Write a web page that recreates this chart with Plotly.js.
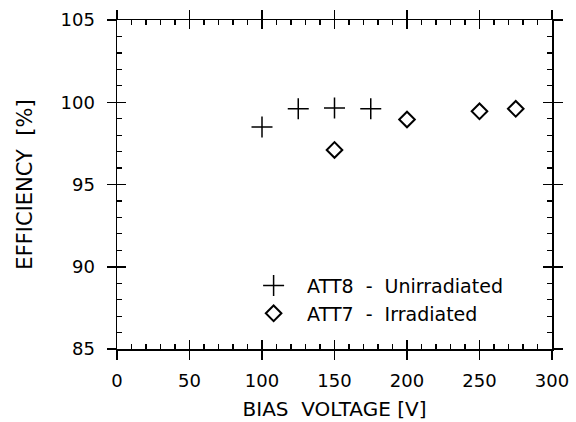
<!DOCTYPE html>
<html>
<head>
<meta charset="utf-8">
<script src="https://cdn.plot.ly/plotly-3.0.1.min.js"></script>
<style>html,body{margin:0;padding:0;background:#fff}#chart{width:576px;height:422px}</style>
</head>
<body>
<div id="chart"></div>
<script>
// Data
const att8Voltage = [100, 125, 150, 175];
const att8Efficiency = [98.5, 99.6, 99.65, 99.6];
const att7Voltage = [150, 200, 250, 275];
const att7Efficiency = [97.1, 98.95, 99.45, 99.6];
const xTickValues = [0, 50, 100, 150, 200, 250, 300];
const yTickValues = [85, 90, 95, 100, 105];
const seriesNames = ['ATT8\u00a0\u00a0-\u00a0\u00a0Unirradiated', 'ATT7\u00a0\u00a0-\u00a0\u00a0Irradiated'];

const FONT = 'DejaVu Sans, Arial, sans-serif';

const traces = [
  {
    x: att8Voltage, y: att8Efficiency, name: seriesNames[0],
    type: 'scatter', mode: 'markers', legendgroup: 'a',
    marker: {symbol: 'cross-thin-open', size: 15, color: '#000', line: {color: '#000', width: 1.5}}
  },
  {
    x: att7Voltage, y: att7Efficiency, name: seriesNames[1],
    type: 'scatter', mode: 'markers', legendgroup: 'b',
    marker: {symbol: 'diamond-open', size: 12, color: '#000', line: {color: '#000', width: 2}}
  },
  // empty helper traces so the overlaid tick-only axes are drawn
  {x: [null], y: [null], xaxis: 'x2', yaxis: 'y2', type: 'scatter', mode: 'markers',
   showlegend: false, hoverinfo: 'skip'},
  {x: [null], y: [null], xaxis: 'x3', yaxis: 'y3', type: 'scatter', mode: 'markers',
   showlegend: false, hoverinfo: 'skip'}
];

const common = {
  showgrid: false, zeroline: false, linecolor: '#000', linewidth: 1.5,
  tickcolor: '#000', tickwidth: 1.5
};

const layout = {
  width: 576, height: 422,
  margin: {l: 117, r: 24, t: 20, b: 73},
  paper_bgcolor: '#fff', plot_bgcolor: 'rgba(0,0,0,0)',
  font: {family: FONT, color: '#000', size: 18},
  showlegend: true,
  legend: {
    x: 0.283, y: 0.25, xanchor: 'left', yanchor: 'top',
    bgcolor: 'rgba(0,0,0,0)', font: {size: 19, family: FONT, color: '#000'},
    traceorder: 'grouped', tracegroupgap: 0, itemwidth: 57
  },
  // main axes: labels, line, outside major ticks
  xaxis: Object.assign({}, common, {
    range: [0, 300], tickvals: xTickValues, ticktext: xTickValues.map(String),
    showline: true, ticks: 'outside', ticklen: 9, mirror: 'ticks',
    ticklabelstandoff: 6,
    tickfont: {size: 18},
    title: {text: 'BIAS\u00a0\u00a0VOLTAGE [V]', font: {size: 20}, standoff: 12}
  }),
  yaxis: Object.assign({}, common, {
    range: [85, 105], tickvals: yTickValues, ticktext: yTickValues.map(String),
    showline: true, ticks: 'outside', ticklen: 9, mirror: 'ticks',
    ticklabelstandoff: 8,
    tickfont: {size: 18},
    title: {text: 'EFFICIENCY\u00a0\u00a0[%]', font: {size: 21}, standoff: 22}
  }),
  // overlay: inside major ticks
  xaxis2: Object.assign({}, common, {
    overlaying: 'x', anchor: 'y2', side: 'bottom', range: [0, 300], tickvals: xTickValues,
    showticklabels: false, ticks: 'inside', ticklen: 9, mirror: 'ticks', showline: false
  }),
  yaxis2: Object.assign({}, common, {
    overlaying: 'y', anchor: 'x2', side: 'left', range: [85, 105], tickvals: yTickValues,
    showticklabels: false, ticks: 'inside', ticklen: 9, mirror: 'ticks', showline: false
  }),
  // overlay: inside minor ticks
  xaxis3: Object.assign({}, common, {
    overlaying: 'x', anchor: 'y3', side: 'bottom', range: [0, 300], tick0: 0, dtick: 10,
    showticklabels: false, ticks: 'inside', ticklen: 5, tickwidth: 1.2, mirror: 'ticks', showline: false
  }),
  yaxis3: Object.assign({}, common, {
    overlaying: 'y', anchor: 'x3', side: 'left', range: [85, 105], tick0: 85, dtick: 1,
    showticklabels: false, ticks: 'inside', ticklen: 5, tickwidth: 1.2, mirror: 'ticks', showline: false
  })
};

Plotly.newPlot('chart', traces, layout, {displayModeBar: false, staticPlot: true});
</script>
</body>
</html>
